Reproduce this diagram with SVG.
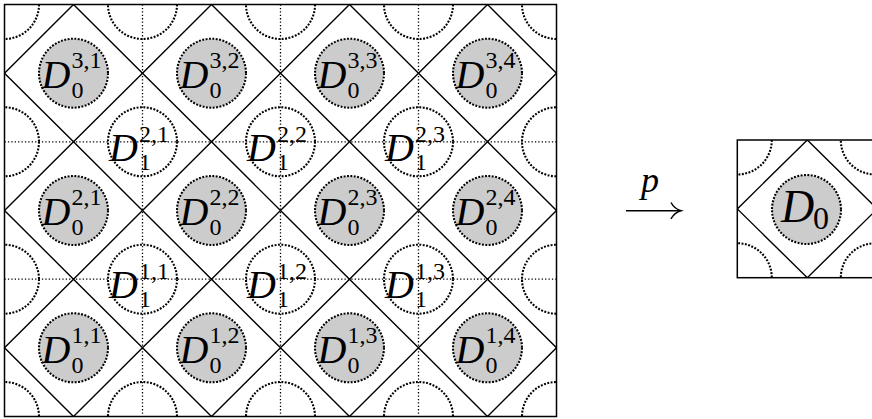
<svg xmlns="http://www.w3.org/2000/svg" width="872" height="419" viewBox="0 0 872 419">
<style>
.frame{fill:none;stroke:#000;stroke-width:1.5}
.dia{fill:none;stroke:#000;stroke-width:1.4}
.grid{fill:none;stroke:#000;stroke-width:1.3;stroke-dasharray:1.3 2.1}
.dc{fill:none;stroke:#000;stroke-width:2.1;stroke-dasharray:1.9 1.5}
.gc{fill:#cccccc;stroke:#000;stroke-width:2.1;stroke-dasharray:1.9 1.5}
.m{font-family:"Liberation Serif","Times New Roman",serif;fill:#000}
.i{font-style:italic}
.big{font-size:40px}
.scr{font-size:24px}
</style>
<defs>
<clipPath id="clipL"><rect x="4.5" y="4.5" width="552" height="412"/></clipPath>
<clipPath id="clipR"><rect x="737.3" y="140" width="138" height="137.7"/></clipPath>
</defs>
<g id="left-frame">
<rect class="frame" x="4.5" y="4.5" width="552" height="412"/>
</g>
<g id="connectors">
<g clip-path="url(#clipL)">
<path class="grid" d="M142.5 4.5V416.5M280.5 4.5V416.5M418.5 4.5V416.5M4.5 141.8H556.5M4.5 279.2H556.5"/>
<path class="dia" d="M4.5 73.2L73.5 4.5L142.5 73.2L73.5 141.8Z M142.5 73.2L211.5 4.5L280.5 73.2L211.5 141.8Z M280.5 73.2L349.5 4.5L418.5 73.2L349.5 141.8Z M418.5 73.2L487.5 4.5L556.5 73.2L487.5 141.8Z
M4.5 210.5L73.5 141.8L142.5 210.5L73.5 279.2Z M142.5 210.5L211.5 141.8L280.5 210.5L211.5 279.2Z M280.5 210.5L349.5 141.8L418.5 210.5L349.5 279.2Z M418.5 210.5L487.5 141.8L556.5 210.5L487.5 279.2Z
M4.5 347.8L73.5 279.2L142.5 347.8L73.5 416.5Z M142.5 347.8L211.5 279.2L280.5 347.8L211.5 416.5Z M280.5 347.8L349.5 279.2L418.5 347.8L349.5 416.5Z M418.5 347.8L487.5 279.2L556.5 347.8L487.5 416.5Z"/>
<g id="boundary-arcs">
<circle class="dc" cx="4.5" cy="4.5" r="34.5"/>
<circle class="dc" cx="142.5" cy="4.5" r="34.5"/>
<circle class="dc" cx="280.5" cy="4.5" r="34.5"/>
<circle class="dc" cx="418.5" cy="4.5" r="34.5"/>
<circle class="dc" cx="556.5" cy="4.5" r="34.5"/>
<circle class="dc" cx="4.5" cy="416.5" r="34.5"/>
<circle class="dc" cx="142.5" cy="416.5" r="34.5"/>
<circle class="dc" cx="280.5" cy="416.5" r="34.5"/>
<circle class="dc" cx="418.5" cy="416.5" r="34.5"/>
<circle class="dc" cx="556.5" cy="416.5" r="34.5"/>
<circle class="dc" cx="4.5" cy="141.8" r="34.5"/>
<circle class="dc" cx="4.5" cy="279.2" r="34.5"/>
<circle class="dc" cx="556.5" cy="141.8" r="34.5"/>
<circle class="dc" cx="556.5" cy="279.2" r="34.5"/>
</g>
</g>
<g id="arrow-p">
<path d="M626 210.7H679.5" stroke="#000" stroke-width="1.5" fill="none"/>
<path d="M671 202.5Q674.5 209 681 210.7Q674.5 212.4 671 218.9" stroke="#000" stroke-width="1.5" fill="none"/>
<text class="m i" x="641" y="192" font-size="36">p</text>
</g>
<g clip-path="url(#clipR)">
<path class="dia" d="M737.3 208.9L807.3 140L877.3 208.9L807.3 277.7Z"/>
<circle class="dc" cx="737.3" cy="140" r="34.5"/>
<circle class="dc" cx="737.3" cy="277.7" r="34.5"/>
<circle class="dc" cx="875.3" cy="140" r="34.5"/>
<circle class="dc" cx="875.3" cy="277.7" r="34.5"/>
</g>
</g>
<g id="right-frame">
<rect class="frame" x="737.3" y="140" width="138" height="137.7"/>
</g>
<g id="node-D0">
<circle class="gc" cx="806.5" cy="209.5" r="34.5"/>
<text class="m i" x="781" y="222" font-size="46">D</text>
<text class="m" x="813" y="229" font-size="32">0</text>
</g>
<g id="D0-nodes">
<g id="D0-3-1"><circle class="gc" cx="73.5" cy="73.2" r="34.5"/><text class="m i big" x="41.5" y="88">D</text><text class="m scr" x="71.5" y="68">3,1</text><text class="m scr" x="71.5" y="98">0</text></g>
<g id="D0-3-2"><circle class="gc" cx="211.5" cy="73.2" r="34.5"/><text class="m i big" x="179.5" y="88">D</text><text class="m scr" x="209.5" y="68">3,2</text><text class="m scr" x="209.5" y="98">0</text></g>
<g id="D0-3-3"><circle class="gc" cx="349.5" cy="73.2" r="34.5"/><text class="m i big" x="317.5" y="88">D</text><text class="m scr" x="347.5" y="68">3,3</text><text class="m scr" x="347.5" y="98">0</text></g>
<g id="D0-3-4"><circle class="gc" cx="487.5" cy="73.2" r="34.5"/><text class="m i big" x="455.5" y="88">D</text><text class="m scr" x="485.5" y="68">3,4</text><text class="m scr" x="485.5" y="98">0</text></g>
<g id="D0-2-1"><circle class="gc" cx="73.5" cy="210.5" r="34.5"/><text class="m i big" x="41.5" y="225.3">D</text><text class="m scr" x="71.5" y="205.3">2,1</text><text class="m scr" x="71.5" y="235.3">0</text></g>
<g id="D0-2-2"><circle class="gc" cx="211.5" cy="210.5" r="34.5"/><text class="m i big" x="179.5" y="225.3">D</text><text class="m scr" x="209.5" y="205.3">2,2</text><text class="m scr" x="209.5" y="235.3">0</text></g>
<g id="D0-2-3"><circle class="gc" cx="349.5" cy="210.5" r="34.5"/><text class="m i big" x="317.5" y="225.3">D</text><text class="m scr" x="347.5" y="205.3">2,3</text><text class="m scr" x="347.5" y="235.3">0</text></g>
<g id="D0-2-4"><circle class="gc" cx="487.5" cy="210.5" r="34.5"/><text class="m i big" x="455.5" y="225.3">D</text><text class="m scr" x="485.5" y="205.3">2,4</text><text class="m scr" x="485.5" y="235.3">0</text></g>
<g id="D0-1-1"><circle class="gc" cx="73.5" cy="347.8" r="34.5"/><text class="m i big" x="41.5" y="362.6">D</text><text class="m scr" x="71.5" y="342.6">1,1</text><text class="m scr" x="71.5" y="372.6">0</text></g>
<g id="D0-1-2"><circle class="gc" cx="211.5" cy="347.8" r="34.5"/><text class="m i big" x="179.5" y="362.6">D</text><text class="m scr" x="209.5" y="342.6">1,2</text><text class="m scr" x="209.5" y="372.6">0</text></g>
<g id="D0-1-3"><circle class="gc" cx="349.5" cy="347.8" r="34.5"/><text class="m i big" x="317.5" y="362.6">D</text><text class="m scr" x="347.5" y="342.6">1,3</text><text class="m scr" x="347.5" y="372.6">0</text></g>
<g id="D0-1-4"><circle class="gc" cx="487.5" cy="347.8" r="34.5"/><text class="m i big" x="455.5" y="362.6">D</text><text class="m scr" x="485.5" y="342.6">1,4</text><text class="m scr" x="485.5" y="372.6">0</text></g>
</g>
<g id="D1-nodes">
<g id="D1-2-1"><circle class="dc" cx="142.5" cy="141.8" r="34.5"/><text class="m i big" x="109" y="161">D</text><text class="m scr" x="139" y="142">2,1</text><text class="m scr" x="139" y="170">1</text></g>
<g id="D1-2-2"><circle class="dc" cx="280.5" cy="141.8" r="34.5"/><text class="m i big" x="247" y="161">D</text><text class="m scr" x="277" y="142">2,2</text><text class="m scr" x="277" y="170">1</text></g>
<g id="D1-2-3"><circle class="dc" cx="418.5" cy="141.8" r="34.5"/><text class="m i big" x="385" y="161">D</text><text class="m scr" x="415" y="142">2,3</text><text class="m scr" x="415" y="170">1</text></g>
<g id="D1-1-1"><circle class="dc" cx="142.5" cy="279.2" r="34.5"/><text class="m i big" x="109" y="298.4">D</text><text class="m scr" x="139" y="279.4">1,1</text><text class="m scr" x="139" y="307.4">1</text></g>
<g id="D1-1-2"><circle class="dc" cx="280.5" cy="279.2" r="34.5"/><text class="m i big" x="247" y="298.4">D</text><text class="m scr" x="277" y="279.4">1,2</text><text class="m scr" x="277" y="307.4">1</text></g>
<g id="D1-1-3"><circle class="dc" cx="418.5" cy="279.2" r="34.5"/><text class="m i big" x="385" y="298.4">D</text><text class="m scr" x="415" y="279.4">1,3</text><text class="m scr" x="415" y="307.4">1</text></g>
</g>
</svg>
